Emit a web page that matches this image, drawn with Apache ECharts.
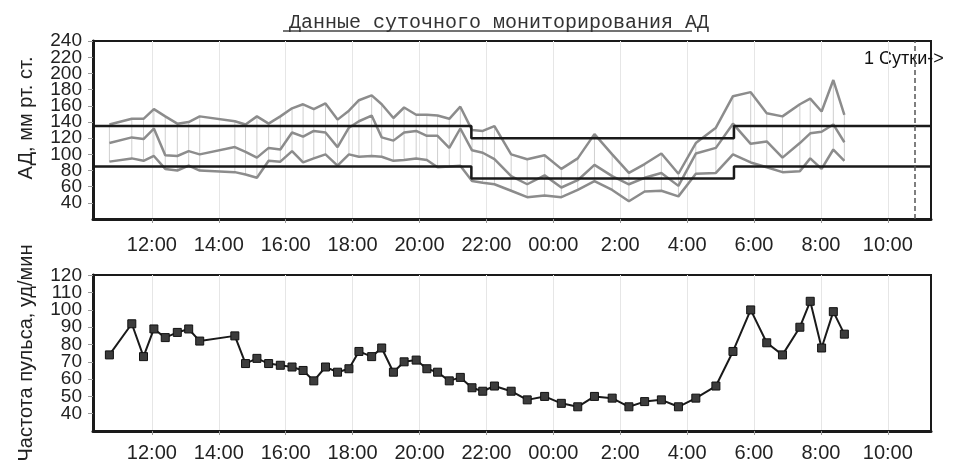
<!DOCTYPE html>
<html>
<head>
<meta charset="utf-8">
<script src="https://cdn.jsdelivr.net/npm/echarts@6/dist/echarts.min.js"></script>
<style>html,body{margin:0;padding:0;background:#fff}#c{width:963px;height:472px}</style>
</head>
<body>
<div id="c"></div>
<script>
// measurement times, hours from midnight of day 1 (values > 24 are next day)
const times = [10.73,11.40,11.75,12.06,12.40,12.76,13.10,13.43,14.48,14.80,15.14,15.49,15.84,16.19,16.52,16.84,17.19,17.55,17.89,18.19,18.57,18.87,
  19.22,19.54,19.90,20.22,20.54,20.89,21.22,21.57,21.89,22.24,22.74,23.22,23.74,24.24,24.73,25.23,25.76,26.26,26.73,27.23,
  27.74,28.26,28.86,29.37,29.90,30.38,30.85,31.37,31.68,32.02,32.37,32.70];
const systolic = [137,144,144,156,147,138,140,147,141,137,147,138,147,157,162,156,163,143,154,167,173,162,
  145,158,149,149,148,144,159,130,129,135,100,94,99,82,95,125,100,77,88,101,
  76,114,133,172,177,151,147,162,169,153,192,149];
const meanBP = [114,121,119,132,99,98,104,100,109,103,96,108,106,127,122,129,127,109,133,141,148,121,
  117,127,129,123,123,108,132,105,102,94,73,63,74,59,68,87,73,63,71,77,
  61,101,108,138,113,116,96,114,126,128,137,115];
const diastolic = [91,95,92,98,82,80,86,80,78,75,71,92,91,104,90,95,100,86,100,97,98,97,
  92,93,95,93,84,85,86,67,65,63,55,47,49,47,56,67,56,42,54,55,
  48,76,77,100,90,84,78,79,95,82,106,92];
const pulse = [74,92,73,89,84,87,89,82,85,69,72,69,68,67,65,59,67,64,66,76,73,78,
  64,70,71,66,64,59,61,55,53,56,53,48,50,46,44,50,49,44,47,48,
  44,49,56,76,100,81,74,90,105,78,99,86];
// thresholds (day / night / day)
const thrTimes = [10.24, 21.55, 29.4, 35.29];
const sysThr = [135, 120, 135, 135];
const diaThr = [85, 70, 85, 85];
const dayMark = 34.8;
// axes
const xMin = 10.24, xMax = 35.29;
const xTickHours = [12,14,16,18,20,22,24,26,28,30,32,34];
const xTickLabels = ['12:00','14:00','16:00','18:00','20:00','22:00','00:00','2:00','4:00','6:00','8:00','10:00'];
const bpTicks = [40,60,80,100,120,140,160,180,200,220,240];
const pulseTicks = [40,50,60,70,80,90,100,110,120];

const chart = echarts.init(document.getElementById('c'), null, {renderer:'canvas'});
const FONT = 'Liberation Sans';
const lab = v => { const i = xTickHours.findIndex(h => Math.abs(h - v) < 1e-6); return i >= 0 ? xTickLabels[i] : ''; };

function xAxisCfg(gi, margin) {
  return {
    type: 'value', gridIndex: gi, min: xMin, max: xMax,
    axisLine: {show: true, onZero: false, lineStyle: {color: '#1a1a1a', width: 3}},
    axisTick: {show: true, customValues: xTickHours, length: 4, lineStyle: {color: '#999'}},
    axisLabel: {customValues: xTickHours, formatter: lab, margin: margin, fontSize: 20, fontFamily: FONT, color: '#222', hideOverlap: false},
    splitLine: {show: true, lineStyle: {color: '#e6e6e6', width: 1}}
  };
}
function yAxisCfg(gi, min, max, step, ticks, name) {
  return {
    type: 'value', gridIndex: gi, min: min, max: max, interval: step,
    name: name, nameLocation: 'middle', nameGap: 57, nameRotate: 90,
    nameTextStyle: {fontSize: 20, fontFamily: FONT, color: '#222', padding: gi === 0 ? [0,0,0,24] : 0},
    axisLine: {show: true, lineStyle: {color: '#1a1a1a', width: 3}},
    axisTick: {show: true, customValues: ticks, length: 5, lineStyle: {color: '#999'}},
    axisLabel: {
      formatter: v => (ticks.indexOf(v) >= 0 ? String(v) : ''),
      showMinLabel: false, showMaxLabel: false, hideOverlap: false,
      margin: 11, fontSize: 19, fontFamily: FONT, color: '#222'
    },
    splitLine: {show: false}
  };
}

const bpLine = (arr) => ({
  type: 'line', xAxisIndex: 0, yAxisIndex: 0, symbol: 'none', z: 3,
  data: times.map((t, i) => [t, arr[i]]),
  lineStyle: {color: '#8c8c8c', width: 2.5}
});
const thrLine = (arr, extra) => Object.assign({
  type: 'line', xAxisIndex: 0, yAxisIndex: 0, symbol: 'none', step: 'end', z: 4,
  data: thrTimes.map((t, i) => [t, arr[i]]),
  lineStyle: {color: '#1a1a1a', width: 2.5}
}, extra || {});

chart.setOption({
  animation: false,
  backgroundColor: '#fff',
  title: {
    text: 'Данные суточного мониторирования АД', left: 284, top: 8,
    textStyle: {fontFamily: 'Liberation Mono', fontSize: 20, fontWeight: 'normal', color: '#333'}
  },
  graphic: [
    {type: 'line', shape: {x1: 283, y1: 31, x2: 692, y2: 31}, style: {stroke: '#444', lineWidth: 1.5}},
    {type: 'text', left: 864, top: 50, style: {text: '1 Сутки->', fontSize: 18, fontFamily: FONT, fill: '#111'}}
  ],
  grid: [
    {left: 93, top: 41, width: 838, height: 178, show: true, borderColor: '#1a1a1a', borderWidth: 2},
    {left: 93, top: 275, width: 838, height: 156, show: true, borderColor: '#1a1a1a', borderWidth: 2}
  ],
  xAxis: [xAxisCfg(0, 16), xAxisCfg(1, 12)],
  yAxis: [
    yAxisCfg(0, 20, 240.3, 20, bpTicks, 'АД, мм рт. ст.'),
    yAxisCfg(1, 30, 120.2, 10, pulseTicks, 'Частота пульса, уд/мин')
  ],
  series: [
    {
      type: 'custom', xAxisIndex: 0, yAxisIndex: 0, z: 2,
      data: times.map((t, i) => [t, diastolic[i], systolic[i]]),
      encode: {x: 0, y: [1, 2]},
      renderItem: function (params, api) {
        const p1 = api.coord([api.value(0), api.value(1)]);
        const p2 = api.coord([api.value(0), api.value(2)]);
        return {type: 'line', shape: {x1: p1[0], y1: p1[1], x2: p2[0], y2: p2[1]}, style: {stroke: '#cfcfcf', lineWidth: 1}};
      }
    },
    bpLine(systolic),
    bpLine(meanBP),
    bpLine(diastolic),
    thrLine(sysThr, {
      markLine: {
        silent: true, symbol: 'none', label: {show: false},
        lineStyle: {type: [5, 3], color: '#555', width: 1.5},
        data: [{xAxis: dayMark}]
      }
    }),
    thrLine(diaThr),
    {
      type: 'line', xAxisIndex: 1, yAxisIndex: 1, z: 3,
      data: times.map((t, i) => [t, pulse[i]]),
      symbol: 'rect', symbolSize: 8,
      itemStyle: {color: '#3c3c3c', borderColor: '#111', borderWidth: 1},
      lineStyle: {color: '#1a1a1a', width: 2}
    }
  ]
});
</script>
</body>
</html>
